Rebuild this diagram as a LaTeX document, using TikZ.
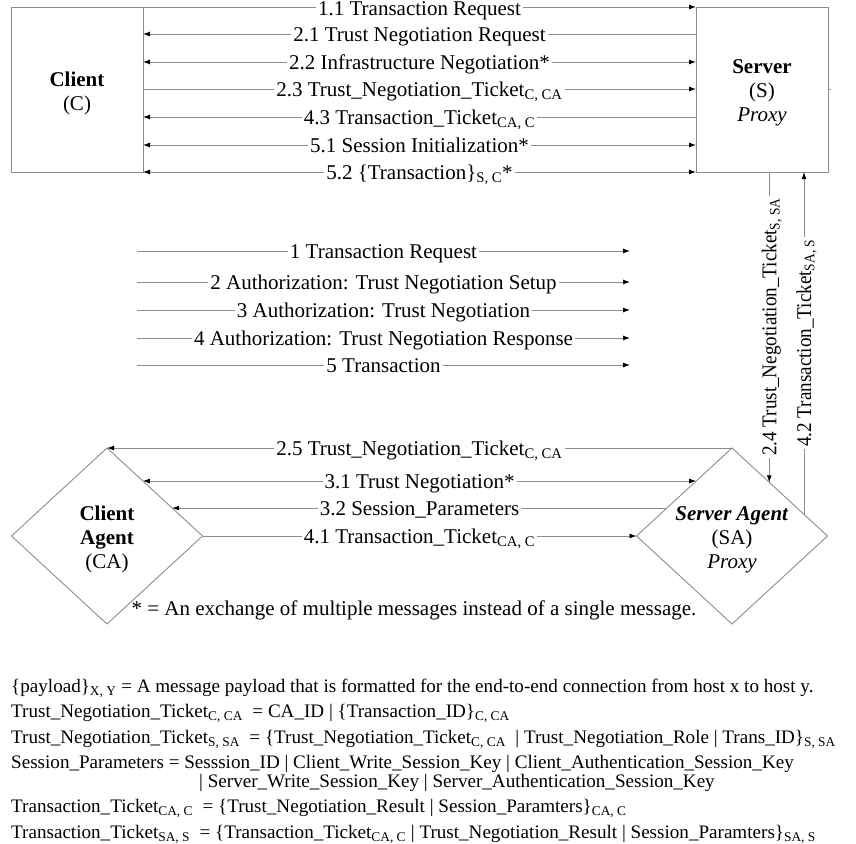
\documentclass[tikz,border=0pt]{standalone}
\usepackage{fontspec}
\setmainfont{Liberation Serif}
\usetikzlibrary{arrows.meta,shapes.geometric,calc}
\newcommand{\sbs}[1]{\textsubscript{#1}}
\begin{document}
\begin{tikzpicture}[x=1pt,y=-1pt,
  every node/.style={font=\fontsize{21}{24}\selectfont},
  ln/.style={draw=black!45, line width=0.9pt},
  >={Latex[length=7pt,width=5pt,color=black]},
  box/.style={draw=black!45, line width=0.9pt, rectangle, inner sep=0pt, outer sep=0pt},
  dia/.style={draw=black!45, line width=0.9pt, diamond, minimum width=191pt, minimum height=176pt, inner sep=0pt, outer sep=0pt},
  intext/.style={align=center, inner sep=0pt},
  lbl/.style={midway, fill=white, inner xsep=2pt, inner ysep=0pt, text height=14.4pt, text depth=0pt},
  note/.style={anchor=base west, inner sep=0pt, font=\fontsize{19.1}{23}\selectfont}
]
\useasboundingbox (0,0) rectangle (856,843);

% main boxes
\node[box, minimum width=132pt, minimum height=165pt] (C) at (77,89.5) {};
\node[box, minimum width=132pt, minimum height=165pt] (S) at (762,89.5) {};
\node[intext] (Ctext) at ([yshift=-3.5pt]C.center) {\textbf{Client}\\(C)};
\node[intext] (Stext) at ([yshift=-3.5pt]S.center) {\textbf{Server}\\(S)\\\textit{Proxy}};
\draw[ln] (S.east) -- ++(3,0);

% diamonds
\node[dia] (CA) at (107,536) {};
\node[dia] (SA) at (732,536) {};
\node[intext] (CAtext) at ([yshift=-3.5pt]CA.center) {\textbf{Client}\\\textbf{Agent}\\(CA)};
\node[intext] (SAtext) at ([yshift=-3.5pt]SA.center) {\textbf{\textit{Server Agent}}\\(SA)\\\textit{Proxy}};

% top level y coordinates
\coordinate (t11) at (0,7);
\coordinate (t21) at (0,34);
\coordinate (t22) at (0,62);
\coordinate (t23) at (0,89);
\coordinate (t43) at (0,117);
\coordinate (t51) at (0,145);
\coordinate (t52) at (0,172);

\draw[ln,->] (C.east |- t11) -- (S.west |- t11) node[lbl,yshift=-1.5pt]{1.1 Transaction Request};
\draw[ln,<-] (C.east |- t21) -- (S.west |- t21) node[lbl]{2.1 Trust Negotiation Request};
\draw[ln,<->] (C.east |- t22) -- (S.west |- t22) node[lbl]{2.2 Infrastructure Negotiation*};
\draw[ln,->] (C.east |- t23) -- (S.west |- t23) node[lbl]{2.3 Trust\_Negotiation\_Ticket\sbs{C, CA}};
\draw[ln,<-] (C.east |- t43) -- (S.west |- t43) node[lbl]{4.3 Transaction\_Ticket\sbs{CA, C}};
\draw[ln,<->] (C.east |- t51) -- (S.west |- t51) node[lbl]{5.1 Session Initialization*};
\draw[ln,<->] (C.east |- t52) -- (S.west |- t52) node[lbl]{5.2 \{Transaction\}\sbs{S, C}*};

% legend arrows
\coordinate (m1a) at (137,251); \coordinate (m1b) at (630,251);
\coordinate (m2a) at (137,282); \coordinate (m2b) at (630,282);
\coordinate (m3a) at (137,310); \coordinate (m3b) at (630,310);
\coordinate (m4a) at (137,338); \coordinate (m4b) at (630,338);
\coordinate (m5a) at (137,365); \coordinate (m5b) at (630,365);
\draw[ln,->] (m1a) -- (m1b) node[lbl]{1 Transaction Request};
\draw[ln,->] (m2a) -- (m2b) node[lbl]{2 Authorization: Trust Negotiation Setup};
\draw[ln,->] (m3a) -- (m3b) node[lbl]{3 Authorization: Trust Negotiation};
\draw[ln,->] (m4a) -- (m4b) node[lbl]{4 Authorization: Trust Negotiation Response};
\draw[ln,->] (m5a) -- (m5b) node[lbl]{5 Transaction};

% diamond connectors
\coordinate (ca31) at ($(CA.north)!0.375!(CA.east)$);
\coordinate (ca32) at ($(CA.north)!0.682!(CA.east)$);
\coordinate (sa31) at ($(SA.north)!0.375!(SA.west)$);
\coordinate (sa32) at ($(SA.north)!0.682!(SA.west)$);
\coordinate (sa24) at ($(SA.north)!0.39!(SA.east)$);
\coordinate (sa42) at ($(SA.north)!0.754!(SA.east)$);

\draw[ln,->] (SA.north) -- (CA.north) node[lbl]{2.5 Trust\_Negotiation\_Ticket\sbs{C, CA}};
\draw[ln,<->] (ca31) -- (sa31) node[lbl]{3.1 Trust Negotiation*};
\draw[ln,<-] (ca32) -- (sa32) node[lbl]{3.2 Session\_Parameters};
\draw[ln,->] (CA.east) -- (SA.west) node[lbl]{4.1 Transaction\_Ticket\sbs{CA, C}};

\draw[ln,->] (S.south -| sa24) -- (sa24) node[lbl,rotate=90]{\scalebox{0.91}[1]{2.4 Trust\_Negotiation\_Ticket\sbs{S, SA}}};
\draw[ln,->] (sa42) -- (S.south -| sa42) node[lbl,rotate=90]{\scalebox{0.91}[1]{4.2 Transaction\_Ticket\sbs{SA, S}}};

\node (fn) at (414,610) {* = An exchange of multiple messages instead of a single message.};

% definitions
\node[note] (d1) at (11,692) {\{payload\}\sbs{X, Y} = A message payload that is formatted for the end-to-end connection from host x to host y.};
\node[note] (d2) at (11,717.5) {Trust\_Negotiation\_Ticket\sbs{C, CA}\ \ = CA\_ID | \{Transaction\_ID\}\sbs{C, CA}};
\node[note] (d3) at (11,743) {Trust\_Negotiation\_Ticket\sbs{S, SA}\ \ = \{Trust\_Negotiation\_Ticket\sbs{C, CA}\ \ | Trust\_Negotiation\_Role | Trans\_ID\}\sbs{S, SA}};
\node[note] (d4) at (11,768.5) {Session\_Parameters = Sesssion\_ID | Client\_Write\_Session\_Key | Client\_Authentication\_Session\_Key};
\node[note] (d5) at (199,787.5) {| Server\_Write\_Session\_Key | Server\_Authentication\_Session\_Key};
\node[note] (d6) at (11,812.5) {Transaction\_Ticket\sbs{CA, C}\ \ = \{Trust\_Negotiation\_Result | Session\_Paramters\}\sbs{CA, C}};
\node[note] (d7) at (11,838) {Transaction\_Ticket\sbs{SA, S}\ \ = \{Transaction\_Ticket\sbs{CA, C} | Trust\_Negotiation\_Result | Session\_Paramters\}\sbs{SA, S}};
\end{tikzpicture}
\end{document}
